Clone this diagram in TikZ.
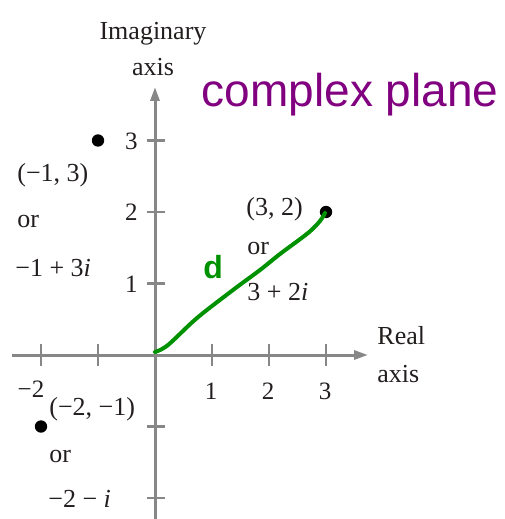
\documentclass[tikz,border=0pt]{standalone}
\usepackage{fontspec}
\setmainfont{Liberation Serif}
\newfontfamily\arialfont{Liberation Sans}
\usetikzlibrary{arrows.meta}
\definecolor{axisgray}{RGB}{135,135,135}
\definecolor{plum}{RGB}{128,0,128}
\definecolor{pengreen}{RGB}{0,145,0}
\definecolor{inkdark}{RGB}{35,30,30}
\tikzset{
  axisline/.style={draw=axisgray, line width=1.5bp, -{Triangle[length=7bp,width=4.5bp]}},
  tickmark/.style={draw=axisgray, line width=1.2bp},
  dotpt/.style={circle, fill=black, inner sep=0pt, minimum size=6.2bp},
  lbl/.style={inner sep=0pt, text=inkdark, font=\fontsize{13bp}{15bp}\selectfont},
  ticklbl/.style={inner sep=0pt, text=inkdark, font=\fontsize{12.5bp}{14bp}\selectfont},
  titlelbl/.style={inner sep=0pt, text=plum, font=\arialfont\fontsize{23bp}{26bp}\selectfont},
  penline/.style={draw=pengreen, line width=2bp, line cap=round, line join=round},
}
\begin{document}
\begin{tikzpicture}[x=0.5bp,y=-0.5bp]
\useasboundingbox (0,0) rectangle (505,519);
% axes
\coordinate (O) at (155,355);
\coordinate (xs) at (12,355);
\coordinate (xe) at (368,355);
\coordinate (ys) at (155,530);
\coordinate (ye) at (155,87);
\draw[axisline] (xs) -- (xe);
\draw[axisline] (ys) -- (ye);
% ticks on real axis
\foreach \k in {-2,-1,1,2,3}{
  \draw[tickmark] (155+57*\k,344) -- (155+57*\k,366);
}
% ticks on imaginary axis
\foreach \k in {-2,-1,1,2,3}{
  \draw[tickmark] (147,355-71.5*\k) -- (165,355-71.5*\k);
}
% axis labels
\node[lbl, anchor=base] (imag) at (153,40) {Imaginary};
\node[lbl, anchor=base] (imagaxis) at (153,76) {axis};
\node[lbl, anchor=base west] (real) at (377,344) {Real};
\node[lbl, anchor=base west] (realaxis) at (377,382) {axis};
% tick labels
\node[ticklbl, anchor=east] (y3) at (138,141) {3};
\node[ticklbl, anchor=east] (y2) at (138,212) {2};
\node[ticklbl, anchor=east] (y1) at (138,284) {1};
\node[ticklbl] (x1) at (211,391) {1};
\node[ticklbl] (x2) at (268,391) {2};
\node[ticklbl] (x3) at (325,391) {3};
\node[ticklbl] (xm2) at (31,389) {−2};
% points
\node[dotpt] (pA) at (98,140.5) {};
\node[dotpt] (pB) at (326,212) {};
\node[dotpt] (pC) at (41,426.5) {};
% point labels
\node[lbl, anchor=base west] (a1) at (17,182) {(−1, 3)};
\node[lbl, anchor=base west] (a2) at (17,228) {or};
\node[lbl, anchor=base west] (a3) at (15,276) {−1 + 3\textit{i}};
\node[lbl, anchor=base west] (b1) at (246,215) {(3, 2)};
\node[lbl, anchor=base west] (b2) at (247,255) {or};
\node[lbl, anchor=base west] (b3) at (247,300) {3 + 2\textit{i}};
\node[lbl, anchor=base west] (c1) at (49,415) {(−2, −1)};
\node[lbl, anchor=base west] (c2) at (49,462) {or};
\node[lbl, anchor=base west] (c3) at (48,507) {−2 − \textit{i}};
% title
\node[titlelbl, anchor=base west] (title) at (201.5,107) {complex plane};
% hand-drawn modulus line
\draw[penline] plot[smooth, tension=0.55] coordinates {(155,352) (168,345) (197,318) (233,290) (260,270) (280,254) (308,233) (320,221) (325,213)};
\node[inner sep=0pt, text=pengreen, anchor=base west, font=\arialfont\bfseries\fontsize{16bp}{18bp}\selectfont] (dlab) at (203,278) {d};
\end{tikzpicture}
\end{document}
